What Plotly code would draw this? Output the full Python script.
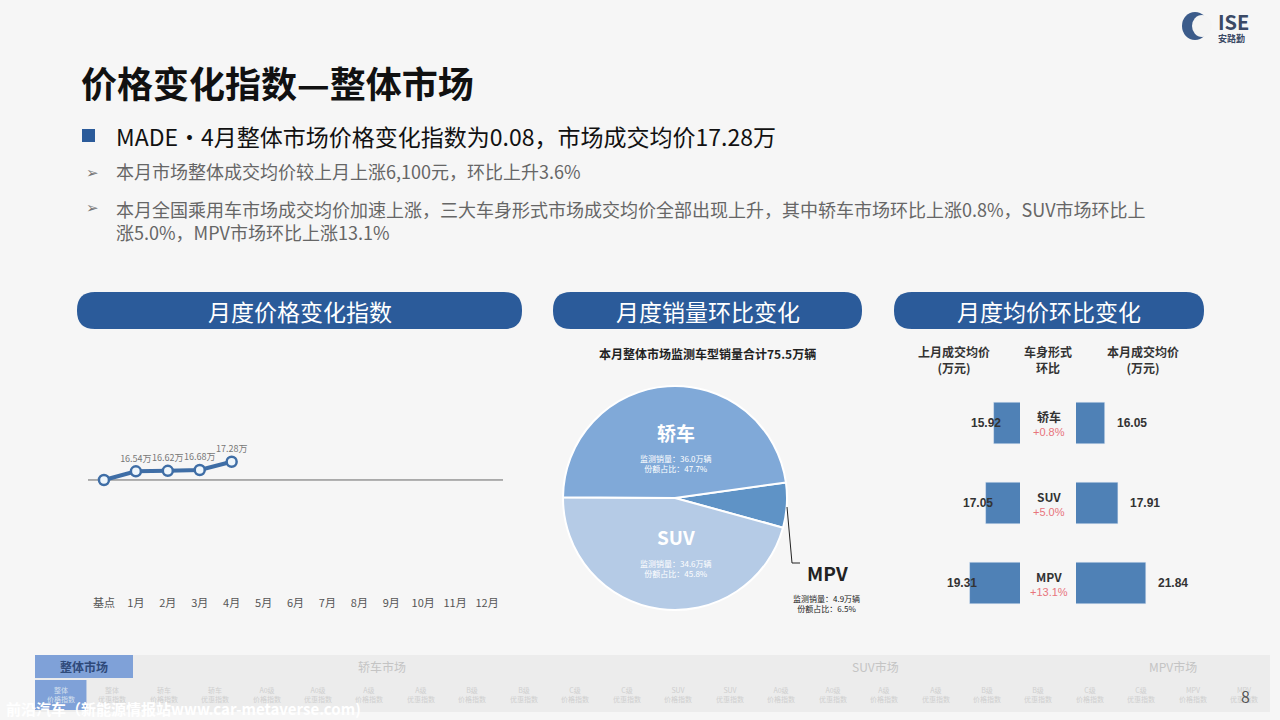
import plotly.graph_objects as go

W, H = 1280, 720
FONT = "Noto Sans CJK SC"

# ---- data ----
months = ["基点", "1月", "2月", "3月", "4月", "5月", "6月", "7月", "8月", "9月", "10月", "11月", "12月"]
price = [15.95, 16.58, 16.62, 16.68, 17.28]
price_labels = ["", "16.54万", "16.62万", "16.68万", "17.28万"]

pie_labels = ["MPV", "SUV", "轿车"]
pie_sales = [4.9, 34.6, 36.0]
pie_share = ["6.5%", "45.8%", "47.7%"]
pie_colors = ["#5f93c6", "#b5cbe6", "#80a9d8"]

body_types = ["轿车", "SUV", "MPV"]
last_month = [15.92, 17.05, 19.31]
this_month = [16.05, 17.91, 21.84]
mom = ["+0.8%", "+5.0%", "+13.1%"]

nav_groups = ["轿车市场", "SUV市场", "MPV市场"]
nav_cells = ["整体\n价格指数", "整体\n优惠指数", "轿车\n价格指数", "轿车\n优惠指数", "A0级\n价格指数", "A0级\n优惠指数",
             "A级\n价格指数", "A级\n优惠指数", "B级\n价格指数", "B级\n优惠指数", "C级\n价格指数", "C级\n优惠指数",
             "SUV\n价格指数", "SUV\n优惠指数", "A0级\n价格指数", "A0级\n优惠指数", "A级\n价格指数", "A级\n优惠指数",
             "B级\n价格指数", "B级\n优惠指数", "C级\n价格指数", "C级\n优惠指数", "MPV\n价格指数", "MPV\n优惠指数"]


def px(x):
    return x / W


def py(y):
    return 1 - y / H


def rrect(x0, y0, x1, y1, r):
    X0, X1 = px(x0), px(x1)
    Y0, Y1 = py(y1), py(y0)
    rx, ry = r / W, r / H
    return (f"M{X0+rx},{Y0} L{X1-rx},{Y0} Q{X1},{Y0} {X1},{Y0+ry} L{X1},{Y1-ry} Q{X1},{Y1} {X1-rx},{Y1} "
            f"L{X0+rx},{Y1} Q{X0},{Y1} {X0},{Y1-ry} L{X0},{Y0+ry} Q{X0},{Y0} {X0+rx},{Y0} Z")


fig = go.Figure()
shapes = []
ann = []


def text(x, y, t, size=12, color="#333", bold=False, xanchor="center", yanchor="middle", **kw):
    if bold:
        t = f"<b>{t}</b>"
    ann.append(dict(x=px(x), y=py(y), xref="paper", yref="paper", text=t, showarrow=False,
                    font=dict(size=size, color=color, family=FONT), xanchor=xanchor, yanchor=yanchor, **kw))


# ---- line chart ----
fig.add_trace(go.Scatter(x=months[:len(price)], y=price, mode="lines+markers+text",
                         text=price_labels, textposition="top center",
                         textfont=dict(size=9, color="#777", family=FONT),
                         line=dict(color="#3f6ea6", width=4),
                         marker=dict(size=10, color="#eef6fc", line=dict(color="#3f6ea6", width=2.5)),
                         xaxis="x", yaxis="y", cliponaxis=False, hoverinfo="skip"))
fig.update_layout(
    xaxis=dict(domain=[px(88), px(503)], type="category", categoryorder="array", categoryarray=months,
               range=[-0.5, 12.5], showgrid=False, zeroline=False, showline=False, ticks="",
               tickfont=dict(size=11, color="#555", family=FONT), anchor="y"),
    yaxis=dict(domain=[py(595), py(420)], range=[7.55, 20.33], visible=False, anchor="x"),
)
shapes.append(dict(type="line", xref="x domain", yref="y", x0=0, x1=1, y0=price[0], y1=price[0],
                   line=dict(color="#666", width=1), layer="below"))

# ---- pie ----
fig.add_trace(go.Pie(labels=pie_labels, values=pie_sales, sort=False, direction="clockwise", rotation=82,
                     marker=dict(colors=pie_colors, line=dict(color="white", width=2)),
                     textinfo="none", hoverinfo="skip", showlegend=False,
                     domain=dict(x=[px(563), px(787)], y=[py(610), py(386)])))
text(707, 353, "本月整体市场监测车型销量合计75.5万辆", 12, "#222", True)
text(676, 432, "轿车", 19, "white", True)
text(676, 463, f"监测销量：{pie_sales[2]}万辆<br>份额占比：{pie_share[2]}", 8, "white")
text(676, 536, "SUV", 19, "white", True)
text(676, 568, f"监测销量：{pie_sales[1]}万辆<br>份额占比：{pie_share[1]}", 8, "white")
text(827, 572, "MPV", 19, "#222", True)
text(826, 603, f"监测销量：{pie_sales[0]}万辆<br>份额占比：{pie_share[0]}", 8, "#222")
shapes.append(dict(type="path", xref="paper", yref="paper",
                   path=f"M{px(787)},{py(507)} L{px(792)},{py(563)} L{px(800)},{py(563)}",
                   line=dict(color="#222", width=1)))

# ---- bars ----
fig.add_trace(go.Bar(y=body_types, x=last_month, orientation="h", marker_color="#4f81b6", width=0.52,
                     xaxis="x2", yaxis="y2", hoverinfo="skip", showlegend=False))
fig.add_trace(go.Bar(y=body_types, x=this_month, orientation="h", marker_color="#4f81b6", width=0.52,
                     xaxis="x3", yaxis="y3", hoverinfo="skip", showlegend=False))
ycat = dict(type="category", categoryorder="array", categoryarray=body_types[::-1], range=[-0.5, 2.5], visible=False)
fig.update_layout(
    xaxis2=dict(domain=[px(920), px(1020)], range=[26.3, 12.2], visible=False, anchor="y2"),
    yaxis2=dict(domain=[py(623), py(383)], anchor="x2", **ycat),
    xaxis3=dict(domain=[px(1076), px(1176)], range=[12.0, 26.1], visible=False, anchor="y3"),
    yaxis3=dict(domain=[py(623), py(383)], anchor="x3", **ycat),
)
for i, (bt, a, b, m) in enumerate(zip(body_types, last_month, this_month, mom)):
    ann.append(dict(x=a, y=bt, xref="x2", yref="y2", text=f"<b>{a:.2f}</b>", showarrow=False,
                    xshift=-8, font=dict(size=12, color="#333", family="Arial"), xanchor="center"))
    ann.append(dict(x=b, y=bt, xref="x3", yref="y3", text=f"<b>{b:.2f}</b>", showarrow=False,
                    xshift=10, font=dict(size=12, color="#333", family="Arial"), xanchor="left"))
    ann.append(dict(x=px(1049), y=bt, xref="paper", yref="y2", text=f"<b>{bt}</b>", showarrow=False,
                    yshift=7, xanchor="center", font=dict(size=12, color="#333", family=FONT)))
    ann.append(dict(x=px(1049), y=bt, xref="paper", yref="y2", text=m, showarrow=False,
                    yshift=-9, xanchor="center", font=dict(size=11, color="#e8747c", family="Arial")))
text(954, 359, "上月成交均价<br>(万元)", 12, "#333", True)
text(1048, 359, "车身形式<br>环比", 12, "#333", True)
text(1143, 359, "本月成交均价<br>(万元)", 12, "#333", True)

# ---- headers ----
for (x0, x1, t) in [(77, 522, "月度价格变化指数"), (553, 862, "月度销量环比变化"), (894, 1204, "月度均价环比变化")]:
    shapes.append(dict(type="path", xref="paper", yref="paper", path=rrect(x0, 292, x1, 329, 18),
                       fillcolor="#2b5b9a", line=dict(width=0)))
    text((x0 + x1) / 2, 311, t, 23, "white")

# ---- title block ----
text(79, 82, "价格变化指数—整体市场", 36, "#111", True, xanchor="left")
shapes.append(dict(type="rect", xref="paper", yref="paper", x0=px(82), x1=px(95), y0=py(142), y1=py(129),
                   fillcolor="#2b5b9a", line=dict(width=0)))
text(114, 136, "MADE·4月整体市场价格变化指数为0.08，市场成交均价17.28万", 23, "#111", xanchor="left")
text(84, 171, "➢", 15, "#777", xanchor="left")
text(114, 171, "本月市场整体成交均价较上月上涨6,100元，环比上升3.6%", 18, "#666", xanchor="left")
text(84, 207, "➢", 15, "#777", xanchor="left")
text(114, 220, "本月全国乘用车市场成交均价加速上涨，三大车身形式市场成交均价全部出现上升，其中轿车市场环比上涨0.8%，SUV市场环比上<br>涨5.0%，MPV市场环比上涨13.1%",
     18, "#666", xanchor="left", align="left")

# ---- logo ----
shapes.append(dict(type="circle", xref="paper", yref="paper", x0=px(1182), x1=px(1208), y0=py(40), y1=py(12),
                   fillcolor="#3b5b8a", line=dict(width=0)))
shapes.append(dict(type="circle", xref="paper", yref="paper", x0=px(1192), x1=px(1212), y0=py(37), y1=py(15),
                   fillcolor="#f4f4f4", line=dict(width=0)))
text(1216, 21, "ISE", 20, "#3b4a66", True, xanchor="left")
text(1216, 38, "安路勤", 9, "#3b4a66", True, xanchor="left")

# ---- bottom nav ----
shapes.append(dict(type="rect", xref="paper", yref="paper", x0=px(35), x1=px(1270), y0=py(712), y1=py(655),
                   fillcolor="#ececec", line=dict(width=0), layer="below"))
shapes.append(dict(type="rect", xref="paper", yref="paper", x0=px(35), x1=px(133), y0=py(678), y1=py(655),
                   fillcolor="#7fa1d8", line=dict(width=0)))
text(84, 666, "整体市场", 12, "#2f4a7a", True)
for t, x in zip(nav_groups, [382, 875, 1173]):
    text(x, 666, t, 12, "#c4c4c4")
cw = (1270 - 35) / len(nav_cells)
for i, c in enumerate(nav_cells):
    x0 = 35 + i * cw
    if i == 0:
        shapes.append(dict(type="rect", xref="paper", yref="paper", x0=px(x0), x1=px(x0 + cw), y0=py(710),
                           y1=py(680), fillcolor="#7fa1d8", line=dict(width=0)))
    text(x0 + cw / 2, 694, c.replace("\n", "<br>"), 7, "#d6e0ee" if i == 0 else "#cfcfcf")
text(4, 708, "前沿汽车（新能源情报站www.car-metaverse.com)", 15, "white", True, xanchor="left")
text(1245, 696, "8", 16, "#555")

fig.update_layout(width=W, height=H, margin=dict(l=0, r=0, t=0, b=0), paper_bgcolor="#f6f6f6",
                  plot_bgcolor="rgba(0,0,0,0)", showlegend=False, shapes=shapes, annotations=ann,
                  font=dict(family=FONT), barmode="overlay")
fig.write_html("out.html", config={"displayModeBar": False})

# remove default page margin so the 1280x720 figure fills the window
with open("out.html", encoding="utf-8") as f:
    html = f.read()
html = html.replace("<head>", "<head><style>html,body{margin:0;padding:0;overflow:hidden;background:#f6f6f6}</style>", 1)
with open("out.html", "w", encoding="utf-8") as f:
    f.write(html)
